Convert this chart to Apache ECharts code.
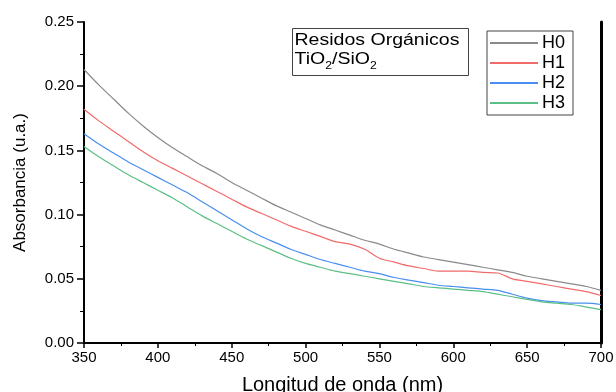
<!DOCTYPE html>
<html><head><meta charset="utf-8">
<script src="https://cdn.jsdelivr.net/npm/echarts@6/dist/echarts.min.js"></script>
<style>html,body{margin:0;padding:0;background:#fff}#c{width:616px;height:392px}</style>
</head><body><div id="c"></div>
<script>
const wavelengths = [350,360,370,380,390,400,410,420,430,440,450,460,470,480,490,500,510,520,530,540,550,560,570,580,590,600,610,620,630,640,650,660,670,680,690,700];
const H0 = [.213,.201,.190,.179,.169,.160,.152,.145,.138,.132,.125,.119,.113,.107,.102,.097,.092,.088,.084,.080,.077,.073,.070,.067,.065,.063,.061,.059,.057,.055,.052,.050,.048,.046,.044,.041];
const H1 = [.182,.173,.165,.157,.149,.142,.136,.130,.124,.118,.112,.106,.101,.096,.091,.087,.083,.079,.077,.073,.066,.063,.060,.058,.056,.056,.056,.055,.0545,.050,.048,.046,.044,.042,.040,.037];
const H2 = [.163,.155,.148,.141,.135,.129,.123,.117,.110,.103,.096,.089,.083,.078,.073,.069,.065,.062,.059,.056,.054,.051,.049,.047,.045,.044,.043,.042,.041,.038,.035,.033,.032,.031,.031,.030];
const H3 = [.153,.145,.138,.131,.125,.119,.113,.106,.099,.093,.087,.081,.076,.071,.066,.062,.059,.056,.054,.052,.050,.048,.046,.044,.043,.042,.041,.040,.038,.036,.034,.032,.031,.030,.028,.026];
const seriesNames = ['H0','H1','H2','H3'];
const seriesColors = ['#8a8a8a','#f26b6b','#4a8ef0','#5cbf86'];
const xTicks = {min:350, max:700, interval:50};
const yTicks = {min:0, max:0.25, interval:0.05};

const chart = echarts.init(document.getElementById('c'));
const font = 'Liberation Sans, Arial, sans-serif';
const dataSets = [H0,H1,H2,H3];
chart.setOption({
  animation:false,
  grid:{left:84,right:15,top:22,bottom:49,containLabel:false,outerBoundsMode:'none'},
  legend:{
    show:true, orient:'vertical', left:487, top:31,
    data:seriesNames, icon:'rect',
    borderColor:'#444', borderWidth:1, padding:[2,8,2,3],
    itemWidth:48, itemHeight:2, itemGap:0,
    textStyle:{fontFamily:font,fontSize:18,color:'#000',lineHeight:20,padding:[0,0,0,-1]}
  },
  xAxis:[{
    type:'value', min:xTicks.min, max:xTicks.max, interval:xTicks.interval,
    name:'Longitud de onda (nm)', nameLocation:'middle', nameGap:32,
    nameTextStyle:{fontFamily:font,fontSize:20,color:'#000'},
    axisLine:{lineStyle:{color:'#000',width:2}},
    axisTick:{length:5,lineStyle:{color:'#000',width:1.5}},
    minorTick:{show:true,splitNumber:2,length:3,lineStyle:{color:'#000',width:1}},
    splitLine:{show:false},
    axisLabel:{fontFamily:font,fontSize:15,color:'#000',margin:7}
  },{
    type:'value', position:'top', min:xTicks.min, max:xTicks.max,
    axisLine:{show:true,lineStyle:{color:'#000',width:1.5}},
    axisTick:{show:false}, axisLabel:{show:false}, splitLine:{show:false}
  }],
  yAxis:[{
    type:'value', min:yTicks.min, max:yTicks.max, interval:yTicks.interval,
    name:'Absorbancia (u.a.)', nameLocation:'middle', nameGap:55,
    nameTextStyle:{fontFamily:font,fontSize:17,color:'#000'},
    axisLine:{show:true,lineStyle:{color:'#000',width:2}},
    axisTick:{show:true,length:7,lineStyle:{color:'#000',width:1.5}},
    minorTick:{show:true,splitNumber:2,length:4,lineStyle:{color:'#000',width:1}},
    splitLine:{show:false},
    axisLabel:{fontFamily:font,fontSize:15,color:'#000',margin:10,formatter:v=>v.toFixed(2)}
  },{
    type:'value', position:'right', min:yTicks.min, max:yTicks.max,
    axisLine:{show:true,lineStyle:{color:'#000',width:3}},
    axisTick:{show:false}, axisLabel:{show:false}, splitLine:{show:false}
  }],
  graphic:[{
    type:'group', left:292, top:28,
    children:[
      {type:'rect', shape:{x:0,y:0,width:176,height:47}, style:{fill:'#fff',stroke:'#444',lineWidth:1}},
      {type:'text', x:2, y:4, scaleX:1.22, style:{
        text:'{n|Residos Orgánicos}\n{n|TiO}{s|2}{n|/SiO}{s|2}',
        rich:{
          n:{fontFamily:font,fontSize:16,color:'#000',lineHeight:19,verticalAlign:'top'},
          s:{fontFamily:font,fontSize:10,color:'#000',lineHeight:19,padding:[10,0,0,0],verticalAlign:'top'}
        }
      }}
    ]
  }],
  series: seriesNames.map((n,i)=>({
    name:n, type:'line', symbol:'none', smooth:0.3,
    lineStyle:{color:seriesColors[i],width:1.2}, itemStyle:{color:seriesColors[i]},
    data: wavelengths.map((w,j)=>[w,dataSets[i][j]])
  }))
});
</script></body></html>
